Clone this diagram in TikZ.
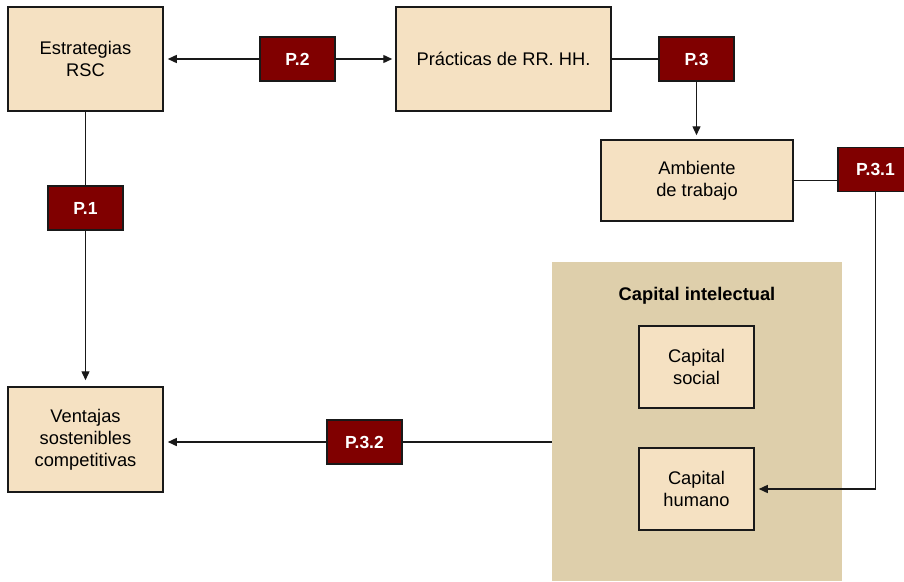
\documentclass[tikz,border=0pt]{standalone}
\usepackage{fontspec}
\setmainfont{Liberation Sans}
\usepackage{tikz}
\usetikzlibrary{arrows.meta,backgrounds}
\definecolor{boxfill}{RGB}{245,225,194}
\definecolor{cifill}{RGB}{222,207,171}
\definecolor{hypred}{RGB}{128,0,0}
\definecolor{edge}{RGB}{25,25,25}
\tikzstyle{block} = [rectangle, sharp corners, draw=edge, line width=1.5pt,
                     fill=boxfill, align=center, inner sep=0pt,
                     font=\fontsize{18.3}{22}\selectfont]
\tikzstyle{hyp} = [rectangle, draw=edge, line width=1.5pt, fill=hypred,
                   text=white, inner sep=0pt, minimum width=75, minimum height=44,
                   font=\fontsize{17.5}{20}\selectfont\bfseries]

\begin{document}
\begin{tikzpicture}[x=1pt, y=-1pt, link/.style={line width=1.4pt, edge},
tip/.style={-{Triangle[length=9pt,width=8pt]}, shorten >=4pt}]
\useasboundingbox (0,0) rectangle (904,581);
%Boxes
\node[block, minimum width=155, minimum height=104] at (85.5,59) (estr){Estrategias\\RSC};
\node[block, minimum width=215, minimum height=104] at (503.5,59) (pract){Prácticas de RR. HH.};
\node[block, minimum width=192, minimum height=81] at (697,180.5) (amb){Ambiente\\de trabajo};
\node[block, minimum width=155, minimum height=105] at (85.5,439.5) (vent){Ventajas\\sostenibles\\competitivas};

% Capital intelectual
\node[rectangle, minimum width=290, minimum height=319, inner sep=0pt] at (697,421.5) (ci){};
\node[font=\fontsize{18.3}{22}\selectfont\bfseries] at (697,296) (citit){Capital intelectual};
\node[block, minimum width=115, minimum height=82] at (696.5,367) (social){Capital\\social};
\node[block, minimum width=115, minimum height=82] at (696.5,489) (humano){Capital\\humano};

% Hypotheses
\node[hyp] at (297.5,59) (p2){P.2};
\node[hyp] at (696.5,59) (p3){P.3};
\node[hyp] at (875.5,169.5) (p31){P.3.1};
\node[hyp] at (85.5,208) (p1){P.1};
\node[hyp] at (364.5,442) (p32){P.3.2};

\begin{scope}[on background layer]
\fill[cifill] (ci.north west) rectangle (ci.south east);
\draw[link, {Triangle[length=9pt,width=8pt]}-{Triangle[length=9pt,width=8pt]}, shorten <=4pt, shorten >=3pt] (estr) -- (pract);
\draw[link] (pract) -- (p3);
\draw[link, tip] (p3.south) -- (p3.south |- amb.north);
\draw[link] (amb.east) -- (amb.east -| p31.west);
\draw[link, tip] (p31.south) |- (humano.east);
\draw[link, tip, shorten >=6pt] (estr.south) -- (vent.north);
\draw[link, tip] (ci.west |- p32) -- (vent.east |- p32);
\end{scope}

\end{tikzpicture}
\end{document}
